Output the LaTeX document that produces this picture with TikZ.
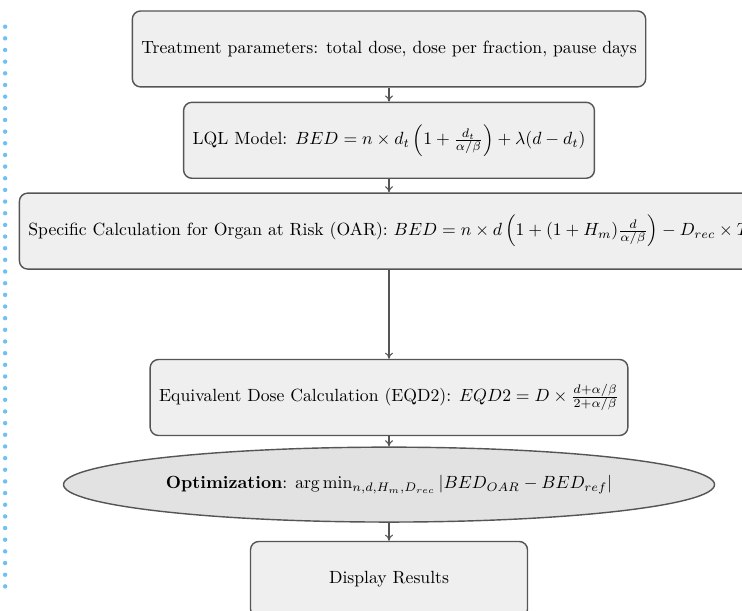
\documentclass[tikz,border=0pt]{standalone}
\usepackage{amsmath}
\usetikzlibrary{positioning, arrows.meta, shapes.geometric}

\definecolor{boxfill}{HTML}{EFEFEF}
\definecolor{ovalfill}{HTML}{E2E2E2}
\definecolor{edgegray}{HTML}{555555}
\definecolor{dotblue}{HTML}{6EC1F2}

\begin{document}
\begin{tikzpicture}[
  box/.style={rectangle, rounded corners=4.7pt, draw=edgegray, fill=boxfill, thick,
    minimum height=43pt, inner xsep=5.1pt, align=center},
  oval/.style={ellipse, draw=edgegray, fill=ovalfill, thick,
    minimum width=368.5pt, minimum height=42.4pt, inner sep=0pt},
  flow/.style={draw=edgegray, semithick, -{To[length=3.5pt,width=4.5pt]}}
]
\useasboundingbox (-220.2pt,27.7pt) rectangle (199.8pt,-318.1pt);

\node[box] (params) at (0,0) {Treatment parameters: total dose, dose per fraction, pause days};

\node[box, below=7.9pt of params] (lql)
  {LQL Model: $BED = n \times d_t \left(1 + \frac{d_t}{\alpha/\beta}\right) + \lambda(d - d_t)$};

\node[box, below=7.6pt of lql] (oar)
  {Specific Calculation for Organ at Risk (OAR): $BED = n \times d \left(1 + (1 + H_m)\frac{d}{\alpha/\beta}\right) - D_{rec} \times T$};

\node[box, below=50.4pt of oar] (eqd)
  {Equivalent Dose Calculation (EQD2): $EQD2 = D \times \frac{d+\alpha/\beta}{2+\alpha/\beta}$};

\node[oval, below=5.8pt of eqd] (opt)
  {\textbf{Optimization}: $\arg\min_{n,d,H_m,D_{rec}} |BED_{OAR} - BED_{ref}|$};

\node[box, minimum width=156.8pt, below=10.2pt of opt] (res) {Display Results};

\draw[flow] (params) -- (lql);
\draw[flow] (lql) -- (oar);
\draw[flow] (oar) -- (eqd);
\draw[flow] (eqd) -- (opt);
\draw[flow] (opt) -- (res);

% dotted rule on the left edge
\foreach \i in {0,...,48}
  \fill[dotblue] (-217.3pt, 12.6pt-\i*6.6pt) circle (1.25pt);

\end{tikzpicture}
\end{document}
